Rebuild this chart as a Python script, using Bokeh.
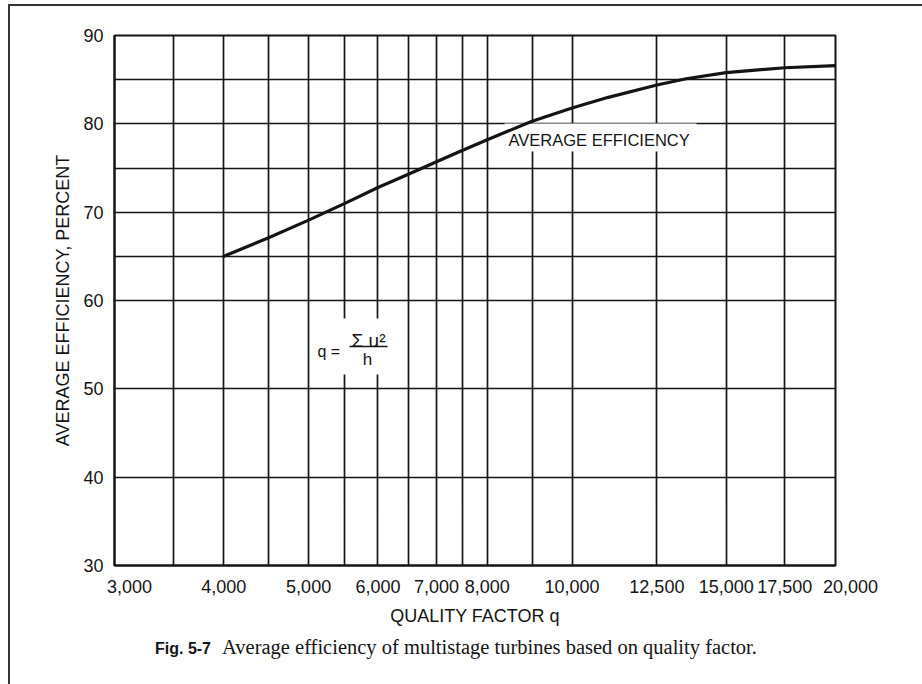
from bokeh.plotting import figure
from bokeh.layouts import column
from bokeh.models import Range1d, FixedTicker, NumeralTickFormatter, Label, BoxAnnotation, Div
from bokeh.embed import file_html
from bokeh.resources import INLINE

# ---- data ----
quality = [4000, 4500, 5000, 5500, 6000, 6500, 7000, 7500, 8000, 9000,
           10000, 11000, 12500, 13500, 15000, 17500, 20000]
efficiency = [65.0, 67.1, 69.1, 71.0, 72.8, 74.3, 75.7, 77.0, 78.2, 80.3,
              81.8, 83.0, 84.4, 85.1, 85.8, 86.35, 86.6]

x_ticks = [3000, 4000, 5000, 6000, 7000, 8000, 10000, 12500, 15000, 17500, 20000]
x_grid_lines = [3000, 3500, 4000, 4500, 5000, 5500, 6000, 6500, 7000, 7500,
                8000, 9000, 10000, 12500, 15000, 17500, 20000]
y_ticks = [30, 40, 50, 60, 70, 80, 90]
y_grid_lines = [30, 40, 50, 60, 65, 70, 75, 80, 85, 90]

x_title = "QUALITY FACTOR q"
y_title = "AVERAGE EFFICIENCY, PERCENT"
curve_name = "AVERAGE EFFICIENCY"
fig_no = "Fig. 5-7"
caption = "Average efficiency of multistage turbines based on quality factor."

# ---- layout (page pixels) ----
OX, OY = 10, 6                 # page position of the figure's top-left corner
W, H = 910, 626
FL, FR, FT, FB = 114, 835, 35, 565   # plot frame in page pixels
X0, X1 = 3000, 20000
Y0, Y1 = 30, 90


def px2q(px):
    return X0 * (X1 / X0) ** ((px - FL) / (FR - FL))


def py2y(py):
    return Y1 - (py - FT) / (FB - FT) * (Y1 - Y0)


SANS = "Liberation Sans"
SERIF = "Liberation Serif"
INK = "#141414"
NB = "\u00a0"

p = figure(width=W, height=H, x_axis_type="log",
           x_range=Range1d(X0, X1), y_range=Range1d(Y0, Y1),
           output_backend="svg", toolbar_location=None,
           min_border_left=FL - OX, min_border_right=W - (FR - OX),
           min_border_top=FT - OY, min_border_bottom=H - (FB - OY))
p.background_fill_color = "white"
p.border_fill_color = "white"
p.outline_line_color = INK
p.outline_line_width = 2

# axes
p.xaxis.ticker = FixedTicker(ticks=x_ticks, minor_ticks=[])
p.xaxis.formatter = NumeralTickFormatter(format="0,0")
# the end labels of the original sit slightly inward / outward of their lines
p.xaxis.major_label_overrides = {3000: NB * 6 + "3,000", 20000: NB * 6 + "20,000"}
p.yaxis.ticker = FixedTicker(ticks=y_ticks, minor_ticks=[])
for ax in (p.xaxis, p.yaxis):
    ax.major_tick_line_color = None
    ax.minor_tick_line_color = None
    ax.axis_line_color = INK
    ax.axis_line_width = 2
    ax.major_label_text_font = SANS
    ax.major_label_text_font_size = "18px"
    ax.major_label_text_color = INK
    ax.axis_label_text_font = SANS
    ax.axis_label_text_font_size = "18px"
    ax.axis_label_text_font_style = "normal"
    ax.axis_label_text_color = INK
p.xaxis.major_label_standoff = 5
p.yaxis.major_label_standoff = 5
p.xaxis.axis_label = x_title
p.yaxis.axis_label = y_title
p.xaxis.axis_label_standoff = 6
p.yaxis.axis_label_standoff = 7

# grid
p.xgrid.ticker = FixedTicker(ticks=x_grid_lines)
p.ygrid.ticker = FixedTicker(ticks=y_grid_lines)
for g in (p.xgrid, p.ygrid):
    g.grid_line_color = INK
    g.grid_line_width = 1.7
    g.grid_line_alpha = 1

# white patches that interrupt the grid behind the lettering
p.add_layout(BoxAnnotation(left=px2q(504), right=px2q(696), top=py2y(123), bottom=py2y(151),
                           fill_color="white", fill_alpha=1, line_color=None, level="underlay"))
p.add_layout(BoxAnnotation(left=px2q(312), right=px2q(390), top=py2y(318), bottom=py2y(374),
                           fill_color="white", fill_alpha=1, line_color=None, level="underlay"))

# curve
p.line(quality, efficiency, line_width=3.2, line_color=INK, line_cap="round", line_join="round")

# lettering inside the chart
p.add_layout(Label(x=px2q(508), y=py2y(139), text=curve_name,
                   text_font=SANS, text_font_size="16.5px", text_color=INK,
                   text_align="left", text_baseline="middle"))
p.add_layout(Label(x=px2q(317), y=py2y(351), text="q =",
                   text_font=SANS, text_font_size="16px", text_color=INK,
                   text_align="left", text_baseline="middle"))
p.add_layout(Label(x=px2q(368), y=py2y(340), text="Σ u²",
                   text_font=SANS, text_font_size="19px", text_color=INK,
                   text_align="center", text_baseline="alphabetic"))
p.add_layout(BoxAnnotation(left=px2q(349), right=px2q(387), top=py2y(345.2), bottom=py2y(346.8),
                           fill_color=INK, fill_alpha=1, line_color=None))
p.add_layout(Label(x=px2q(367), y=py2y(349), text="h",
                   text_font=SANS, text_font_size="17px", text_color=INK,
                   text_align="center", text_baseline="top"))

# caption below the chart
cap = Div(
    text=(f'<div style="margin-left:{150 - OX}px;margin-top:-2px;white-space:nowrap;'
          f'line-height:24px;color:{INK}">'
          f'<span style="font-family:\'{SANS}\';font-weight:bold;font-size:16px">{fig_no}</span>'
          f'<span style="display:inline-block;width:11px"></span>'
          f'<span style="font-family:\'{SERIF}\';font-size:20.5px">{caption}</span></div>'),
    width=W, height=44)

layout = column(p, cap, spacing=0,
                styles={"margin-left": f"{OX - 2}px", "margin-top": f"{OY - 2}px",
                        "border-left": "2px solid #333", "border-top": "2px solid #333"})

open("out.html", "w").write(file_html(layout, INLINE))
